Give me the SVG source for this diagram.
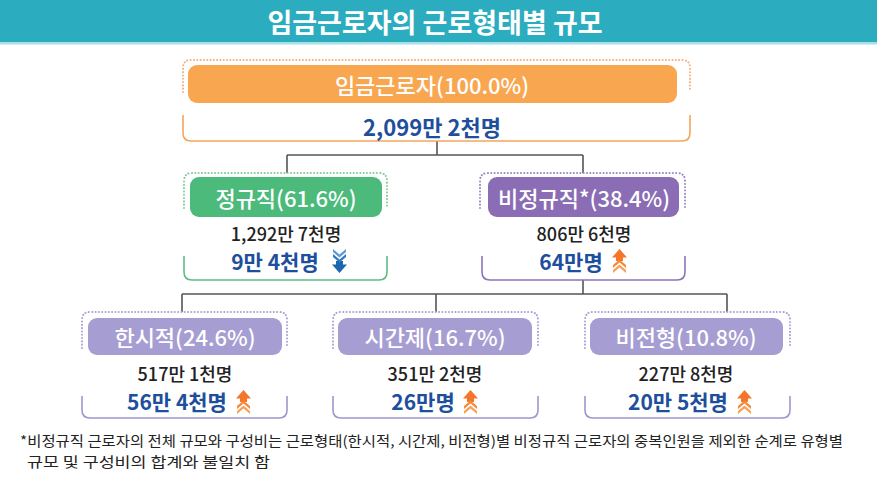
<svg xmlns="http://www.w3.org/2000/svg" width="877" height="477" viewBox="0 0 877 477">
<style>
text{font-family:"Noto Sans CJK KR","Noto Sans",sans-serif;text-anchor:middle;dominant-baseline:central}
.title{font-size:27px;font-weight:700;fill:#fff}
.lbl{font-size:22px;font-weight:500;fill:#fff}
.num{font-size:18px;font-weight:500;fill:#222}
.blue{font-size:21px;font-weight:700;fill:#1d4f9c}
.dot{fill:none;stroke-width:2;stroke-dasharray:0.1 3.2;stroke-linecap:round}
.br{fill:none;stroke-width:1.6}
.conn{fill:none;stroke:#555;stroke-width:1.6}
.note{font-size:14px;fill:#222;text-anchor:start;dominant-baseline:auto}
</style>
<defs>
<g id="up">
<path d="M7.5 0 L15 8.5 L11 8.5 L11 12 L4 12 L4 8.5 L0 8.5 Z" fill="#f3762a"/>
<path d="M1 16 L7.5 10.5 L14 16 L14 19 L7.5 13.5 L1 19 Z" fill="#f58a3c"/>
<path d="M1 21 L7.5 15.5 L14 21 L14 24 L7.5 18.5 L1 24 Z" fill="#f7a259"/>
</g>
<g id="down">
<path d="M7.5 24 L15 15.5 L11 15.5 L11 12 L4 12 L4 15.5 L0 15.5 Z" fill="#1d66b0"/>
<path d="M1 8 L7.5 13.5 L14 8 L14 5 L7.5 10.5 L1 5 Z" fill="#2f7ac0"/>
<path d="M1 3 L7.5 8.5 L14 3 L14 0 L7.5 5.5 L1 0 Z" fill="#5d9bd5"/>
</g>
</defs>

<g id="title">
<rect x="0" y="0" width="877" height="42" fill="#2badbf"/>
<rect x="0" y="42" width="877" height="2.5" fill="#a6dfe6"/>
<text class="title" x="435" y="21">임금근로자의 근로형태별 규모</text>
</g>

<g id="connectors">
<path class="conn" d="M437 141 V155 M287 155 H583 M287 155 V173 M583 155 V173"/>
<path class="conn" d="M583 280 V294 M182 294 H727 M182 294 V312 M436 294 V312 M727 294 V312"/>
</g>

<g id="node-total">
<path class="dot" stroke="#f4b07a" d="M183 92 V68 Q183 60 191 60 H682 Q690 60 690 68 V92"/>
<rect x="188" y="65" width="489" height="38" rx="9" fill="#f9a650"/>
<text class="lbl" x="432" y="84">임금근로자(100.0%)</text>
<path class="br" stroke="#f5a65b" d="M183 115 V133 Q183 141 191 141 H682 Q690 141 690 133 V115"/>
<text class="blue" x="432" y="126" style="font-size:22px">2,099만 2천명</text>
</g>

<g id="node-regular">
<path class="dot" stroke="#7fcca0" d="M184 208 V181 Q184 173 192 173 H379 Q387 173 387 181 V208"/>
<rect x="190" y="177" width="192" height="40" rx="9" fill="#4cba7b"/>
<text class="lbl" x="286" y="197">정규직(61.6%)</text>
<text class="num" x="286" y="233">1,292만 7천명</text>
<path class="br" stroke="#5ebd86" d="M184 256 V272 Q184 280 192 280 H379 Q387 280 387 272 V256"/>
<text class="blue" x="275" y="261">9만 4천명</text>
<use href="#down" x="332" y="249"/>
</g>

<g id="node-nonregular">
<path class="dot" stroke="#9b88c4" d="M480 208 V181 Q480 173 488 173 H677 Q685 173 685 181 V208"/>
<rect x="488" y="177" width="191" height="40" rx="9" fill="#8a6db5"/>
<text class="lbl" x="584" y="197">비정규직*(38.4%)</text>
<text class="num" x="584" y="233">806만 6천명</text>
<path class="br" stroke="#8c74b8" d="M482 256 V272 Q482 280 490 280 H677 Q685 280 685 272 V256"/>
<text class="blue" x="571" y="261">64만명</text>
<use href="#up" x="612" y="249"/>
</g>

<g id="node-temp">
<path class="dot" stroke="#aaa4d4" d="M82 348 V320 Q82 312 90 312 H279 Q287 312 287 320 V348"/>
<rect x="88" y="318" width="194" height="37" rx="9" fill="#a69dd2"/>
<text class="lbl" x="185" y="336">한시적(24.6%)</text>
<text class="num" x="185" y="373">517만 1천명</text>
<path class="br" stroke="#9e96cc" d="M82 396 V410 Q82 418 90 418 H279 Q287 418 287 410 V396"/>
<text class="blue" x="177" y="401">56만 4천명</text>
<use href="#up" x="236" y="390"/>
</g>

<g id="node-part">
<path class="dot" stroke="#aaa4d4" d="M333 348 V320 Q333 312 341 312 H530 Q538 312 538 320 V348"/>
<rect x="338" y="318" width="194" height="37" rx="9" fill="#a69dd2"/>
<text class="lbl" x="435" y="336">시간제(16.7%)</text>
<text class="num" x="435" y="373">351만 2천명</text>
<path class="br" stroke="#9e96cc" d="M333 396 V410 Q333 418 341 418 H530 Q538 418 538 410 V396"/>
<text class="blue" x="423" y="401">26만명</text>
<use href="#up" x="463" y="390"/>
</g>

<g id="node-atypical">
<path class="dot" stroke="#aaa4d4" d="M585 348 V320 Q585 312 593 312 H782 Q790 312 790 320 V348"/>
<rect x="590" y="318" width="193" height="37" rx="9" fill="#a69dd2"/>
<text class="lbl" x="686" y="336">비전형(10.8%)</text>
<text class="num" x="686" y="373">227만 8천명</text>
<path class="br" stroke="#9e96cc" d="M585 396 V410 Q585 418 593 418 H782 Q790 418 790 410 V396"/>
<text class="blue" x="678" y="401">20만 5천명</text>
<use href="#up" x="737" y="390"/>
</g>

<g id="footnote">
<text class="note" x="20" y="446" textLength="823" lengthAdjust="spacingAndGlyphs">*비정규직 근로자의 전체 규모와 구성비는 근로형태(한시적, 시간제, 비전형)별 비정규직 근로자의 중복인원을 제외한 순계로 유형별</text>
<text class="note" x="27" y="467" textLength="243" lengthAdjust="spacingAndGlyphs">규모 및 구성비의 합계와 불일치 함</text>
</g>
</svg>
